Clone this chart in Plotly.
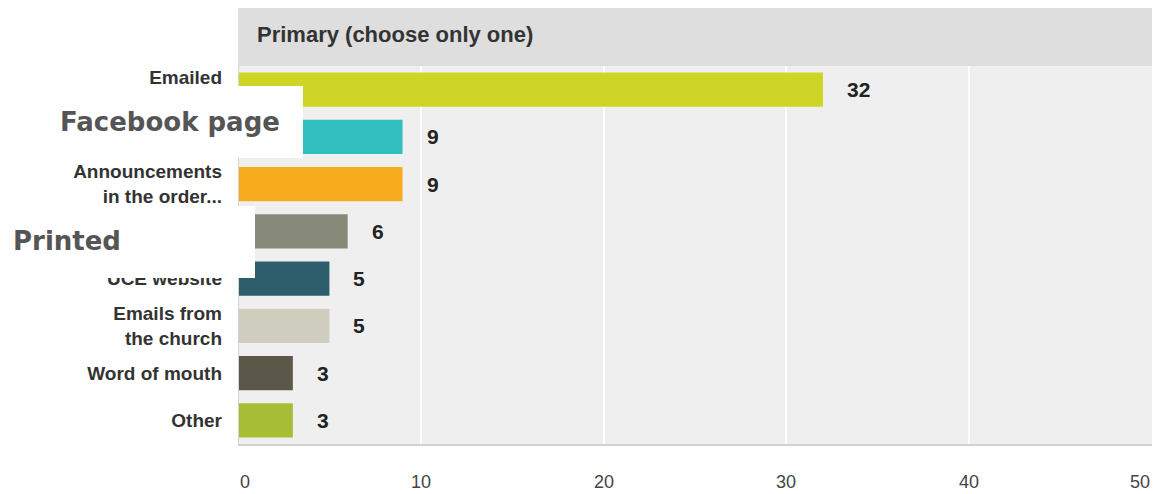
import plotly.graph_objects as go

# Survey answers and their counts
categories = [
    "Emailed<br> ",
    "Facebook page",
    "Announcements<br>in the order...",
    "Printed",
    "UCE website",
    "Emails from<br>the church",
    "Word of mouth",
    "Other",
]
counts = [32, 9, 9, 6, 5, 5, 3, 3]
bar_colors = ["#cfd526", "#31bfbf", "#f7ac1e", "#878a78",
              "#2c5f6b", "#cfcdbd", "#5b584a", "#a7bd36"]
x_ticks = [0, 10, 20, 30, 40, 50]
panel_title = "Primary (choose only one)"
overlay_labels = ["Facebook page", "Printed"]

W, H = 1155, 494
ML, MR, MT, MB = 238, 3, 66, 50
PW, PH = W - ML - MR, H - MT - MB


def px_x(p):
    return (p - ML) / PW


def px_y(p):
    return (H - MB - p) / PH


fig = go.Figure()
fig.add_trace(go.Bar(
    x=counts, y=categories, orientation="h",
    marker=dict(color=bar_colors, line=dict(width=0)),
    width=0.72, hoverinfo="skip",
))

annotations = []
for c, v in zip(categories, counts):
    annotations.append(dict(
        x=v, y=c, xref="x", yref="y", text=f"<b>{v}</b>",
        showarrow=False, xanchor="left", xshift=22,
        font=dict(family="Liberation Sans, Arial", size=21, color="#222"),
    ))

# x tick labels: first and last kept inside the panel
for i, t in enumerate(x_ticks):
    anchor = "left" if i == 0 else ("right" if i == len(x_ticks) - 1 else "center")
    annotations.append(dict(
        x=t, y=px_y(482), xref="x", yref="paper", text=str(t),
        showarrow=False, xanchor=anchor, yanchor="middle",
        font=dict(family="Liberation Sans Narrow, Liberation Sans, Arial",
                  size=18, color="#444"),
    ))

annotations.append(dict(
    x=px_x(255), y=px_y(35), xref="paper", yref="paper",
    text=f"<b>{panel_title}</b>", showarrow=False,
    xanchor="left", yanchor="middle",
    font=dict(family="Liberation Sans, Arial", size=22, color="#333"),
))

shapes = [
    # header band
    dict(type="rect", xref="paper", yref="paper",
         x0=0, x1=1, y0=1, y1=px_y(8),
         fillcolor="#dedede", line=dict(width=0), layer="below"),
    # bottom edge
    dict(type="line", xref="paper", yref="paper",
         x0=0, x1=1, y0=px_y(445), y1=px_y(445),
         line=dict(color="#d0d0d0", width=2)),
    # left edge
    dict(type="line", xref="paper", yref="paper",
         x0=px_x(238.5), x1=px_x(238.5), y0=px_y(445), y1=1,
         line=dict(color="#d4d4d4", width=1)),
]

# white label boxes laid over the axis
boxes = [
    (overlay_labels[0], 0, 303, 86, 158, 58, 122),
    (overlay_labels[1], 0, 255, 206, 278, 11, 241),
]
for text, x0, x1, y0, y1, tx, ty in boxes:
    shapes.append(dict(type="rect", xref="paper", yref="paper",
                       x0=px_x(x0), x1=px_x(x1), y0=px_y(y1), y1=px_y(y0),
                       fillcolor="white", line=dict(width=0), layer="above"))
    annotations.append(dict(
        x=px_x(tx), y=px_y(ty), xref="paper", yref="paper",
        text=f"<b>{text}</b>", showarrow=False,
        xanchor="left", yanchor="middle",
        font=dict(family="DejaVu Sans", size=26, color="#555"),
    ))

# axis labels for the boxed categories are shown in the boxes instead
tick_text = ["" if c in overlay_labels else f"<b>{c}</b>" for c in categories]

fig.update_layout(
    width=W, height=H,
    margin=dict(l=ML, r=MR, t=MT, b=MB),
    paper_bgcolor="white", plot_bgcolor="#efefef",
    showlegend=False, bargap=0.28,
    annotations=annotations, shapes=shapes,
    xaxis=dict(range=[0, 50], tickvals=x_ticks, showgrid=True,
               gridcolor="white", gridwidth=2, zeroline=False,
               ticks="", showticklabels=False, fixedrange=True),
    yaxis=dict(autorange="reversed", showgrid=False, zeroline=False,
               ticks="", ticklabelstandoff=15,
               tickvals=categories, ticktext=tick_text,
               tickfont=dict(family="Liberation Sans, Arial", size=19, color="#333"),
               fixedrange=True),
)

fig.write_html("out.html")
